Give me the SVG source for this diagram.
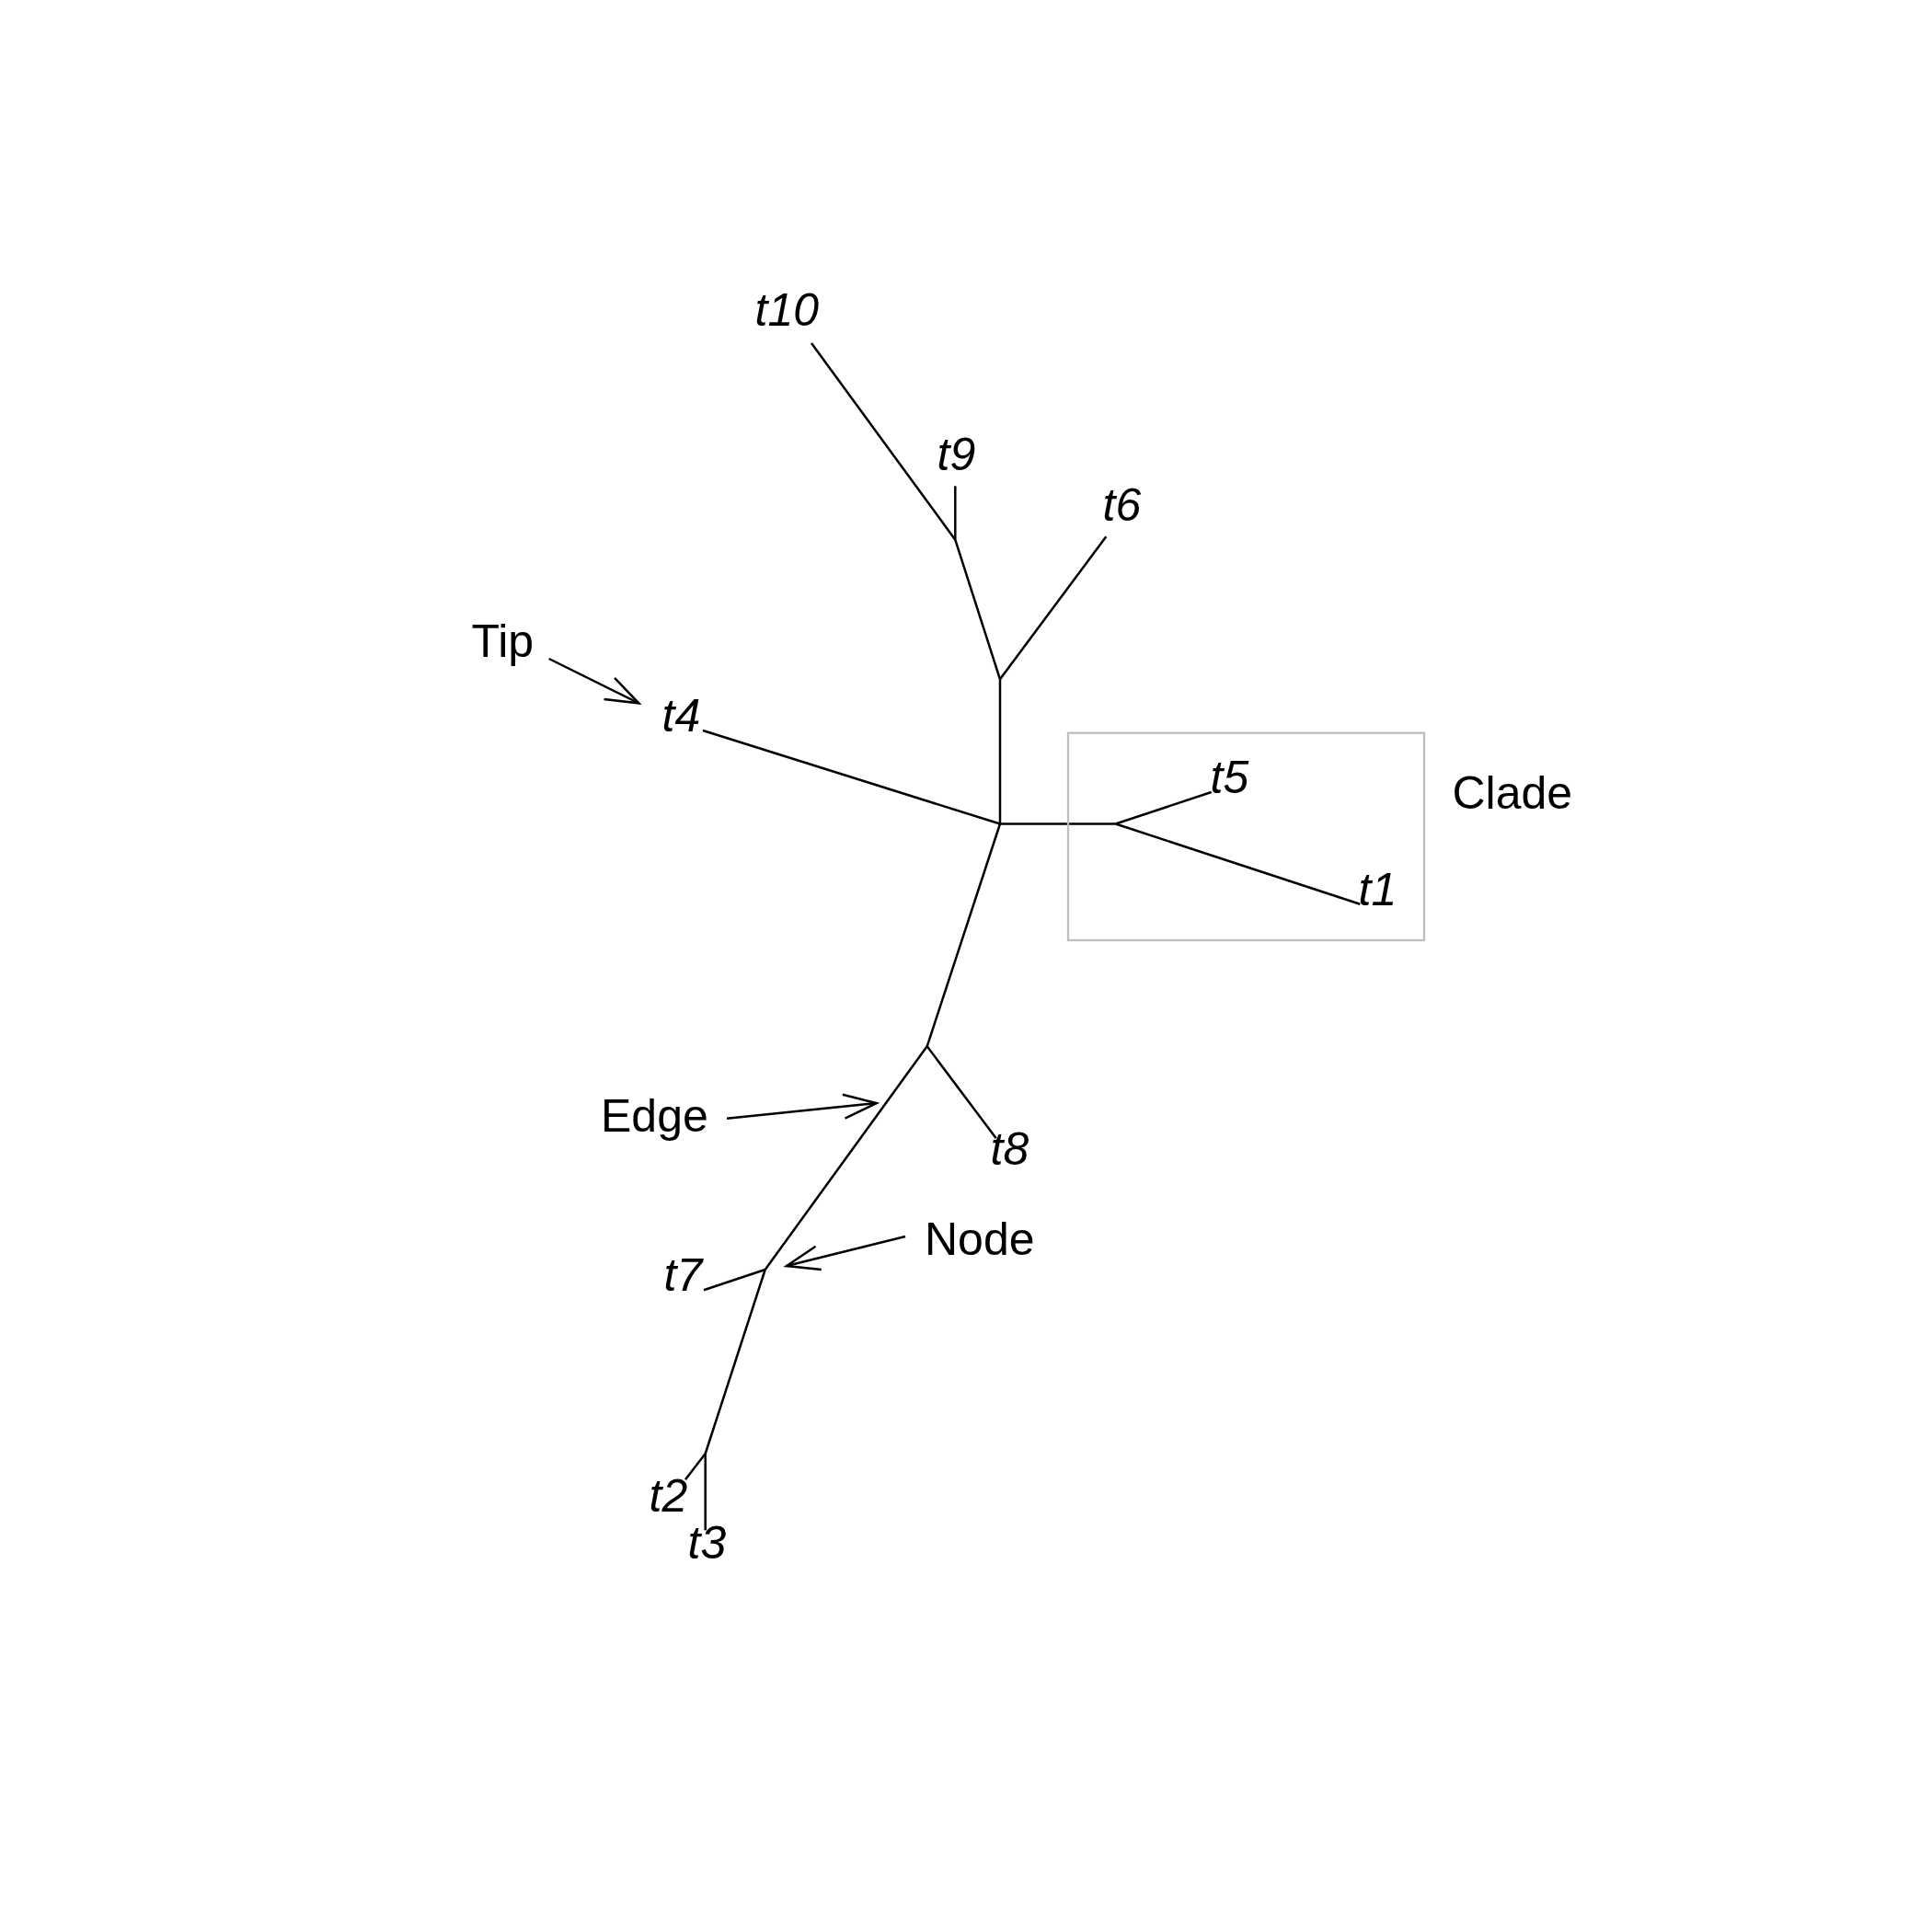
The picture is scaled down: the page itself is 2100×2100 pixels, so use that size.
<svg xmlns="http://www.w3.org/2000/svg" width="2100" height="2100" viewBox="0 0 2100 2100">
<style>
.e{stroke:#000;stroke-width:2.5;fill:none;stroke-linecap:butt}
.a{stroke:#000;stroke-width:2.5;fill:none}
.tl{font-family:"Liberation Sans",Arial,sans-serif;font-style:italic;font-size:50px;fill:#000}
.lb{font-family:"Liberation Sans",Arial,sans-serif;font-size:50px;fill:#000}
</style>
<defs>
<marker id="ah" markerUnits="userSpaceOnUse" markerWidth="80" markerHeight="80" refX="0" refY="0" viewBox="-40 -40 80 80" orient="auto" overflow="visible">
<path d="M-35.7,-13 L0,0 L-35.7,13" fill="none" stroke="#000" stroke-width="2.5"/>
</marker>
</defs>
<rect width="2100" height="2100" fill="#fff"/>
<g id="edges">
<line class="e" x1="1087" y1="895.5" x2="1087" y2="738.3"/>
<line class="e" x1="1087" y1="738.3" x2="1038.3" y2="586.7"/>
<line class="e" x1="1038.3" y1="586.7" x2="1038.3" y2="528.3"/>
<line class="e" x1="1038.3" y1="586.7" x2="882" y2="373"/>
<line class="e" x1="1087" y1="738.3" x2="1202.3" y2="583.3"/>
<line class="e" x1="1087" y1="895.5" x2="764" y2="794"/>
<line class="e" x1="1087" y1="895.5" x2="1212.7" y2="895.5"/>
<line class="e" x1="1212.7" y1="895.5" x2="1316.7" y2="861"/>
<line class="e" x1="1212.7" y1="895.5" x2="1478.3" y2="982.7"/>
<line class="e" x1="1087" y1="895.5" x2="1007.7" y2="1137.3"/>
<line class="e" x1="1007.7" y1="1137.3" x2="1082.7" y2="1237.3"/>
<line class="e" x1="1007.7" y1="1137.3" x2="831.7" y2="1380"/>
<line class="e" x1="831.7" y1="1380" x2="765" y2="1402.3"/>
<line class="e" x1="831.7" y1="1380" x2="766.7" y2="1580"/>
<line class="e" x1="766.7" y1="1580" x2="745" y2="1608.3"/>
<line class="e" x1="766.7" y1="1580" x2="766.7" y2="1663.3"/>
</g>
<g id="tips">
<text class="tl" x="820.5" y="354">t10</text>
<text class="tl" x="1018.5" y="511">t9</text>
<text class="tl" x="1198.5" y="566">t6</text>
<text class="tl" x="719.5" y="795">t4</text>
<text class="tl" x="1315.5" y="862">t5</text>
<text class="tl" x="1476.5" y="984">t1</text>
<text class="tl" x="1076.5" y="1266">t8</text>
<text class="tl" x="721.5" y="1403">t7</text>
<text class="tl" x="705.5" y="1643">t2</text>
<text class="tl" x="747.5" y="1694">t3</text>
</g>
<g id="clade">
<rect x="1161" y="796.7" width="387" height="225.3" fill="none" stroke="#bebebe" stroke-width="2.3"/>
<text class="lb" x="1578.5" y="879">Clade</text>
</g>
<g id="tip-annotation">
<text class="lb" x="512.5" y="714">Tip</text>
<line class="a" x1="596.7" y1="716" x2="694.3" y2="764.3" marker-end="url(#ah)"/>
</g>
<g id="edge-annotation">
<text class="lb" x="653" y="1230">Edge</text>
<line class="a" x1="790" y1="1215.7" x2="952.7" y2="1199" marker-end="url(#ah)"/>
</g>
<g id="node-annotation">
<text class="lb" x="1005" y="1364">Node</text>
<line class="a" x1="984" y1="1344" x2="855" y2="1376" marker-end="url(#ah)"/>
</g>
</svg>
